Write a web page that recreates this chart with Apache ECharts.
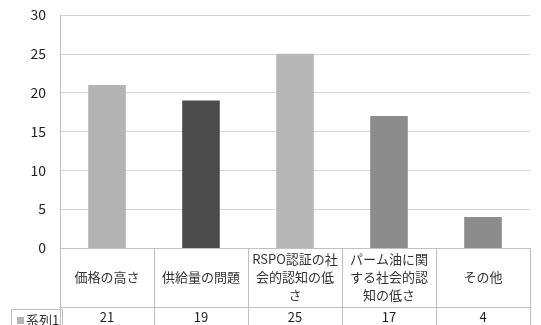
<!DOCTYPE html>
<html>
<head>
<meta charset="utf-8">
<script src="https://cdn.jsdelivr.net/npm/echarts@6/dist/echarts.min.js"></script>
<style>
  html, body { margin: 0; padding: 0; background: #ffffff; }
  #chart { width: 541px; height: 325px; }
</style>
</head>
<body>
<div id="chart"></div>
<script>
// Survey answers: reasons cited, one bar per reason, with a data table underneath
const categories = ['価格の高さ', '供給量の問題', 'RSPO認証の社会的認知の低さ', 'パーム油に関する社会的認知の低さ', 'その他'];
const categoryLabels = ['価格の高さ', '供給量の問題', 'RSPO認証の社\n会的認知の低\nさ', 'パーム油に関\nする社会的認\n知の低さ', 'その他'];
const seriesName = '系列1';
const values = [21, 19, 25, 17, 4];
const barColors = ['#b3b3b3', '#4b4b4b', '#b7b7b7', '#8c8c8c', '#8c8c8c'];
const yTicks = { min: 0, max: 30, interval: 5 };

const FONT = '"Noto Sans CJK JP", "Noto Sans", sans-serif';
const LINE = '#bfbfbf';

const chart = echarts.init(document.getElementById('chart'), null, { renderer: 'canvas' });

chart.setOption({
  backgroundColor: '#ffffff',
  animation: false,
  textStyle: { fontFamily: FONT },
  grid: [
    { left: 60, right: 11, top: 15, bottom: 77, containLabel: false },
    { left: 60, right: 11, top: 307, height: 18, containLabel: false }
  ],
  legend: {
    left: 12, top: 309,
    icon: 'rect', itemWidth: 7, itemHeight: 7, itemGap: 2,
    textStyle: { fontFamily: FONT, fontSize: 13, color: '#333333', padding: [0, 0, 0, -3] },
    data: [{ name: seriesName, itemStyle: { color: '#b3b3b3' } }],
    selectedMode: false
  },
  xAxis: [
    {
      type: 'category', gridIndex: 0, data: categories,
      axisLine: { show: true, lineStyle: { color: LINE, width: 1 } },
      axisTick: { show: true, length: 80, interval: 0, lineStyle: { color: LINE } },
      axisLabel: {
        interval: 0, margin: 29, verticalAlign: 'middle',
        fontFamily: FONT, fontSize: 13, lineHeight: 18, color: '#333333',
        formatter: (v, i) => categoryLabels[i]
      },
      splitLine: { show: false }
    },
    {
      type: 'category', gridIndex: 1, position: 'top', data: categories,
      axisLine: { show: true, onZero: false, lineStyle: { color: LINE, width: 1 } },
      axisTick: { show: false },
      axisLabel: {
        interval: 0, margin: -10, verticalAlign: 'middle',
        fontFamily: FONT, fontSize: 13, color: '#1f1f1f',
        formatter: (v, i) => String(values[i])
      }
    }
  ],
  yAxis: [
    {
      type: 'value', gridIndex: 0,
      min: yTicks.min, max: yTicks.max, interval: yTicks.interval,
      axisLine: { show: true, lineStyle: { color: LINE } },
      axisTick: { show: false },
      axisLabel: { margin: 14, fontFamily: FONT, fontSize: 14, color: '#1f1f1f' },
      splitLine: { show: true, lineStyle: { color: '#d4d4d4', width: 1 } }
    },
    {
      type: 'value', gridIndex: 1, show: false
    }
  ],
  graphic: [
    {
      // series key cell at the left of the data table
      type: 'rect', left: 9, top: 307, z: 10,
      shape: { width: 51, height: 30 },
      style: { fill: 'none', stroke: LINE, lineWidth: 1 }
    }
  ],
  series: [
    {
      name: seriesName, type: 'bar', xAxisIndex: 0, yAxisIndex: 0,
      barWidth: '40%',
      itemStyle: { color: '#b3b3b3' },
      data: values.map((v, i) => ({ value: v, itemStyle: { color: barColors[i] } }))
    }
  ]
});
</script>
</body>
</html>
